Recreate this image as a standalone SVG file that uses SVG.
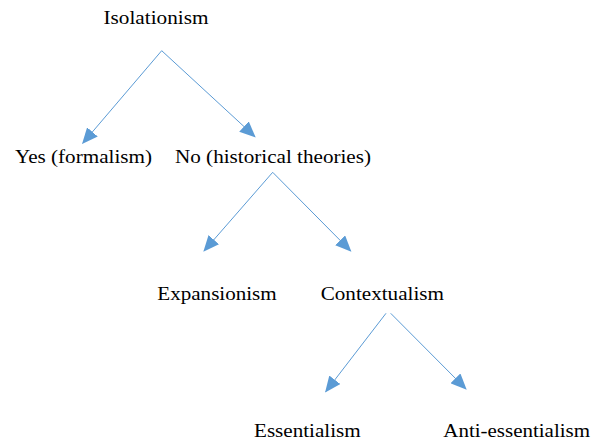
<svg xmlns="http://www.w3.org/2000/svg" width="591" height="441" viewBox="0 0 591 441">
<style>
text{font-family:"Liberation Serif","Times New Roman",serif;font-size:18px;fill:#000}
.c line{stroke:#5b9bd5;stroke-width:1;fill:none;marker-end:url(#ah)}
</style>
<defs>
<marker id="ah" markerUnits="userSpaceOnUse" markerWidth="16" markerHeight="14" viewBox="0 0 16 14" refX="15" refY="7" orient="auto">
<path d="M0,0 L16,7 L0,14 Z" fill="#5b9bd5"/>
</marker>
</defs>
<rect width="591" height="441" fill="#fff"/>
<g id="n-isolationism"><text x="103.5" y="24.3" textLength="105" lengthAdjust="spacingAndGlyphs">Isolationism</text></g>
<g id="n-yes"><text x="15" y="162.7" textLength="137" lengthAdjust="spacingAndGlyphs">Yes (formalism)</text></g>
<g id="n-no"><text x="175" y="162.7" textLength="196" lengthAdjust="spacingAndGlyphs">No (historical theories)</text></g>
<g id="n-expansionism"><text x="157.3" y="300" textLength="119.4" lengthAdjust="spacingAndGlyphs">Expansionism</text></g>
<g id="n-contextualism"><text x="320.7" y="300" textLength="123.3" lengthAdjust="spacingAndGlyphs">Contextualism</text></g>
<g id="n-essentialism"><text x="254" y="436.7" textLength="106.7" lengthAdjust="spacingAndGlyphs">Essentialism</text></g>
<g id="n-anti"><text x="443.3" y="436.7" textLength="146.7" lengthAdjust="spacingAndGlyphs">Anti-essentialism</text></g>
<g class="c" id="connectors">
<line x1="161.7" y1="50.7" x2="82.7" y2="143.3"/>
<line x1="161.7" y1="50.7" x2="255" y2="136.7"/>
<line x1="272.7" y1="172.3" x2="204" y2="251"/>
<line x1="272.7" y1="172.3" x2="350.7" y2="251"/>
<line x1="386" y1="313.3" x2="325.7" y2="391.7"/>
<line x1="390.7" y1="313.3" x2="466" y2="389"/>
</g>
</svg>
